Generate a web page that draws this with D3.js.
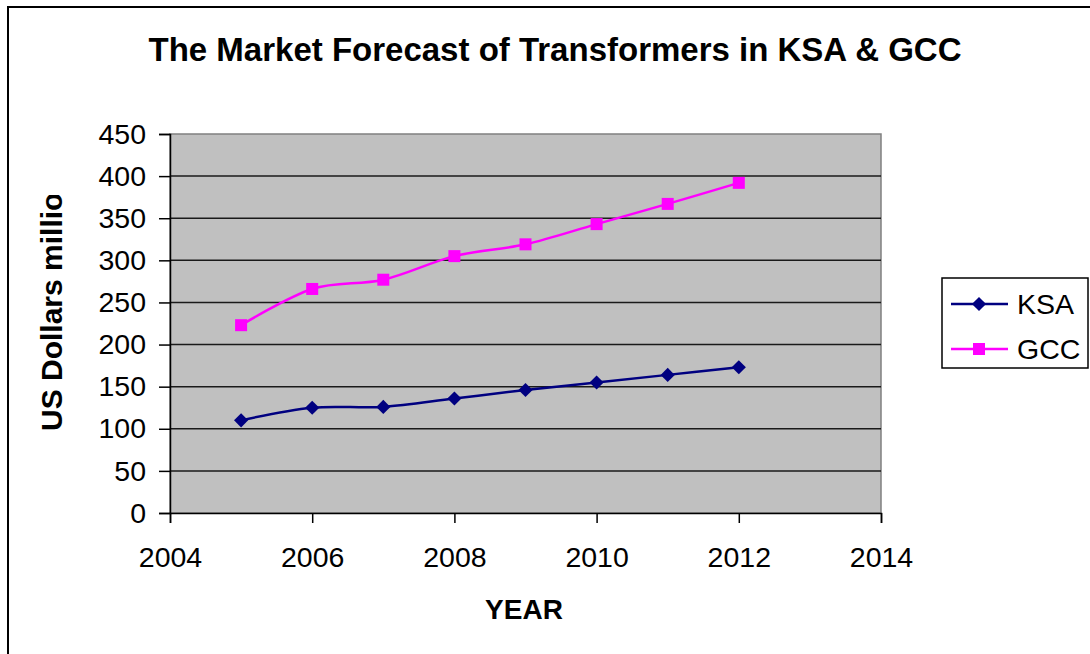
<!DOCTYPE html>
<html>
<head>
<meta charset="utf-8">
<script src="https://cdn.jsdelivr.net/npm/d3@7"></script>
<style>
  body { margin: 0; background: #fff; }
  svg { display: block; font-family: "Liberation Sans", Arial, sans-serif; }
</style>
</head>
<body>
<svg id="canvas" width="1090" height="654"></svg>
<script>
// chart data
const years = [2005, 2006, 2007, 2008, 2009, 2010, 2011, 2012];
const ksaValues = [110, 125, 126, 136, 146, 155, 164, 173];
const gccValues = [223, 266, 277, 305, 319, 343, 367, 392];
const yTicks = [0, 50, 100, 150, 200, 250, 300, 350, 400, 450];
const xTicks = [2004, 2006, 2008, 2010, 2012, 2014];

let canvas = d3.select('#canvas');

// outer frame (runs off the right and bottom of the picture)
canvas.append('rect')
    .attr('x', 8).attr('y', 7)
    .attr('width', 1200).attr('height', 800)
    .attr('fill', 'none')
    .attr('stroke', '#000')
    .attr('stroke-width', 2);

const plot = {left: 170, right: 881, top: 134, bottom: 513};

let x = d3.scaleLinear().domain([2004, 2014]).range([plot.left, plot.right]);
let y = d3.scaleLinear().domain([0, 450]).range([plot.bottom, plot.top]);

// gray plot area
canvas.append('rect')
    .attr('x', plot.left).attr('y', plot.top)
    .attr('width', plot.right - plot.left)
    .attr('height', plot.bottom - plot.top)
    .attr('fill', '#c0c0c0')
    .attr('stroke', '#808080')
    .attr('stroke-width', 1.5);

// horizontal gridlines
canvas.selectAll('line.grid')
    .data(yTicks.filter(d => d > 0 && d < 450))
    .enter()
    .append('line')
    .attr('class', 'grid')
    .attr('x1', plot.left).attr('x2', plot.right)
    .attr('y1', d => y(d)).attr('y2', d => y(d))
    .attr('stroke', '#1a1a1a')
    .attr('stroke-width', 1.5);

// y axis
let yAxis = canvas.append('g')
    .attr('transform', `translate(${plot.left},0)`)
    .call(d3.axisLeft(y).tickValues(yTicks).tickSize(11).tickPadding(13));
yAxis.select('.domain').attr('stroke', '#000').attr('stroke-width', 1.5);
yAxis.selectAll('.tick line').attr('stroke', '#000').attr('stroke-width', 1.5);
yAxis.selectAll('.tick text')
    .attr('font-size', 28.5)
    .attr('fill', '#000')
    .attr('font-family', '"Liberation Sans", Arial, sans-serif');

// x axis
let xAxis = canvas.append('g')
    .attr('transform', `translate(0,${plot.bottom})`)
    .call(d3.axisBottom(x).tickValues(xTicks).tickFormat(d3.format('d')).tickSize(10).tickPadding(24));
xAxis.select('.domain').attr('stroke', '#000').attr('stroke-width', 1.5);
xAxis.selectAll('.tick line').attr('stroke', '#000').attr('stroke-width', 1.5);
xAxis.selectAll('.tick text')
    .attr('font-size', 28.5)
    .attr('fill', '#000')
    .attr('font-family', '"Liberation Sans", Arial, sans-serif');

// smoothed lines like the spreadsheet chart
let line = d3.line()
    .x((d, i) => x(years[i]))
    .y(d => y(d))
    .curve(d3.curveCatmullRom.alpha(0));

canvas.append('path')
    .datum(ksaValues)
    .attr('d', line)
    .attr('fill', 'none')
    .attr('stroke', '#000080')
    .attr('stroke-width', 2.5);

canvas.append('path')
    .datum(gccValues)
    .attr('d', line)
    .attr('fill', 'none')
    .attr('stroke', '#ff00ff')
    .attr('stroke-width', 2.5);

let diamond = d3.symbol().type(d3.symbolSquare).size(100);

canvas.selectAll('path.ksa')
    .data(ksaValues)
    .enter()
    .append('path')
    .attr('class', 'ksa')
    .attr('d', diamond)
    .attr('transform', (d, i) => `translate(${x(years[i])},${y(d)}) rotate(45)`)
    .attr('fill', '#000080');

canvas.selectAll('rect.gcc')
    .data(gccValues)
    .enter()
    .append('rect')
    .attr('class', 'gcc')
    .attr('x', (d, i) => x(years[i]) - 6)
    .attr('y', d => y(d) - 6)
    .attr('width', 12).attr('height', 12)
    .attr('fill', '#ff00ff');

// title
canvas.append('text')
    .attr('x', 555).attr('y', 61)
    .attr('text-anchor', 'middle')
    .attr('font-size', 33)
    .attr('font-weight', 'bold')
    .text('The Market Forecast of Transformers in KSA & GCC');

// axis titles
canvas.append('text')
    .attr('x', 524).attr('y', 619)
    .attr('text-anchor', 'middle')
    .attr('font-size', 28)
    .attr('font-weight', 'bold')
    .text('YEAR');

// the y title is cut off at the top in the original
canvas.append('clipPath')
    .attr('id', 'ytitle-clip')
    .append('rect')
    .attr('x', 0).attr('y', 195)
    .attr('width', 120).attr('height', 300);

canvas.append('g')
    .attr('clip-path', 'url(#ytitle-clip)')
    .append('text')
    .attr('transform', 'translate(62,431) rotate(-90)')
    .attr('font-size', 30)
    .attr('font-weight', 'bold')
    .text('US Dollars million');

// legend
let legend = canvas.append('g');
legend.append('rect')
    .attr('x', 942).attr('y', 278)
    .attr('width', 146).attr('height', 90)
    .attr('fill', '#fff')
    .attr('stroke', '#000')
    .attr('stroke-width', 1.5);

const legendItems = [
    {name: 'KSA', color: '#000080', cy: 304},
    {name: 'GCC', color: '#ff00ff', cy: 349}
];

legendItems.forEach((item, i) => {
    legend.append('line')
        .attr('x1', 951).attr('x2', 1008)
        .attr('y1', item.cy).attr('y2', item.cy)
        .attr('stroke', item.color)
        .attr('stroke-width', 2.5);
    if (i === 0) {
        legend.append('path')
            .attr('d', diamond)
            .attr('transform', `translate(979,${item.cy}) rotate(45)`)
            .attr('fill', item.color);
    } else {
        legend.append('rect')
            .attr('x', 973).attr('y', item.cy - 6)
            .attr('width', 12).attr('height', 12)
            .attr('fill', item.color);
    }
    legend.append('text')
        .attr('x', 1017).attr('y', item.cy + 10)
        .attr('font-size', 28.5)
        .text(item.name);
});
</script>
</body>
</html>
